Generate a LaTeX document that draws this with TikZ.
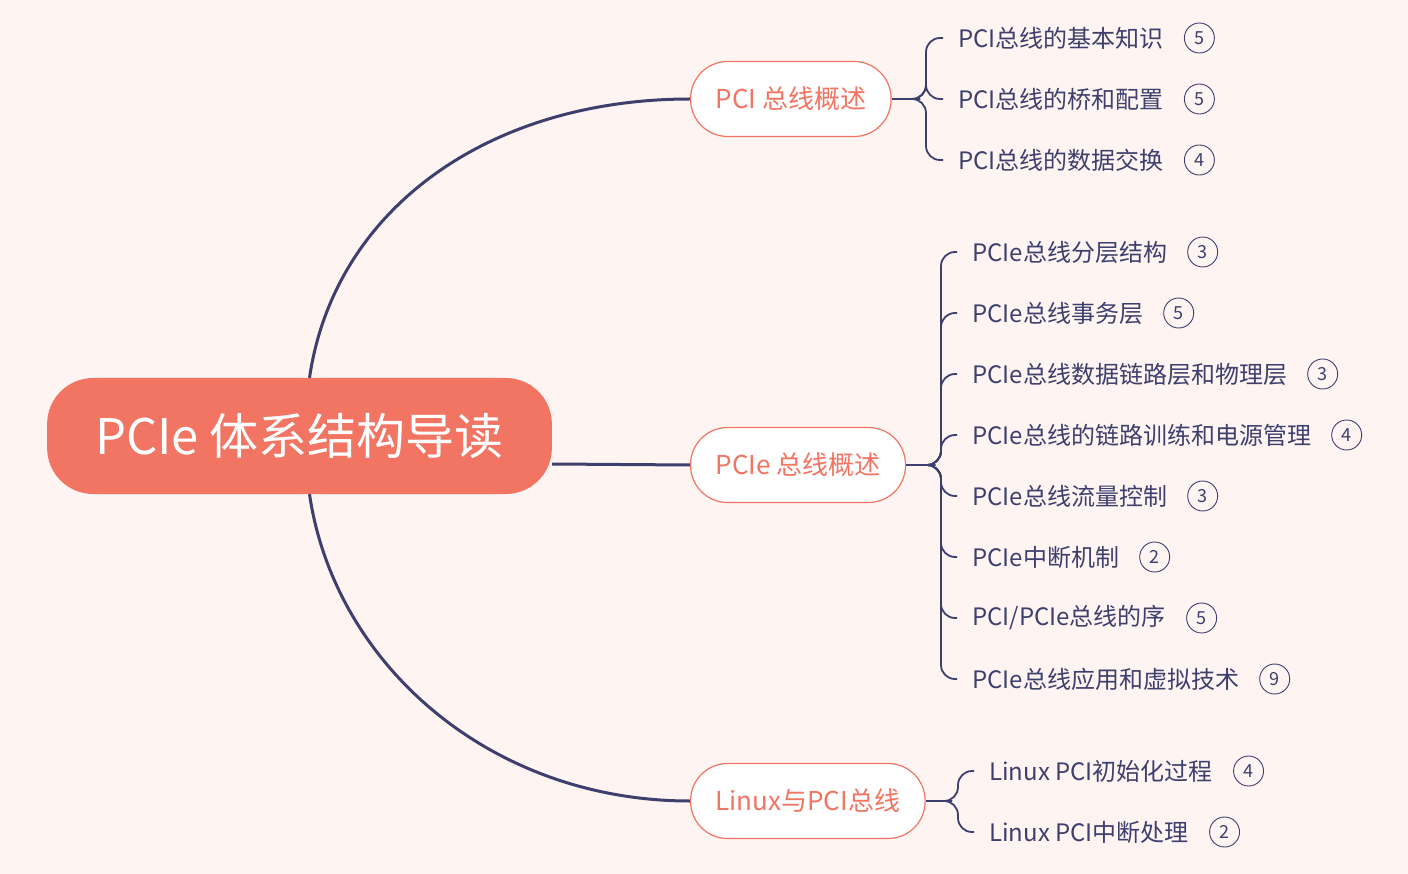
\documentclass[tikz,border=0pt]{standalone}
\usepackage{fontspec}
\setmainfont{Noto Sans CJK SC}
\usetikzlibrary{positioning}
\definecolor{bgpink}{HTML}{FEF5F3}
\definecolor{coral}{HTML}{F27462}
\definecolor{navy}{HTML}{3E3F6D}

\begin{document}
\begin{tikzpicture}[x=1pt, y=-1pt, every node/.style={font=\fontsize{24}{28}\selectfont},
        root/.style={fill=coral, text=white, rounded corners=46pt, minimum height=116pt,
        inner xsep=48pt, font=\fontsize{49}{56}\selectfont},
        topic/.style={draw=coral, line width=1.2pt, fill=white, text=coral, anchor=west,
        rounded corners=37pt, minimum height=75pt, inner xsep=25pt, font=\fontsize{26}{30}\selectfont},
        leaf/.style={anchor=west, text=navy, inner xsep=15pt, inner ysep=0pt},
        badge/.style={circle, draw=navy, line width=0.9pt, text=navy, minimum size=30pt,
        inner sep=0pt, font=\fontsize{18}{20}\selectfont},
        branch/.style={draw=navy, line width=3pt},
        twig/.style={draw=navy, line width=1.8pt, rounded corners=14pt}]
      \fill[bgpink] (0,0) rectangle (1408,874);
      \node[root] (root) at (299.5,436) {PCIe 体系结构导读};
      \node[topic] (pci) at (690,99) {PCI 总线概述};
      \node[topic] (pcie) at (690,465) {PCIe 总线概述};
      \node[topic] (linux) at (690,801) {Linux与PCI总线};
      \draw[branch] ([xshift=10pt]root.north) .. controls +(25,-170) and +(-200,0) .. (pci.west);
      \draw[branch] ([yshift=-28pt]root.east) -- (pcie.west);
      \draw[branch] ([xshift=10pt]root.south) .. controls +(25,170) and +(-200,0) .. (linux.west);
      % PCI
      \coordinate (j1) at (920,99);
      \node[leaf] (l1a) at (943,38) {PCI总线的基本知识};
      \node[leaf] (l1b) at (943,99) {PCI总线的桥和配置};
      \node[leaf] (l1c) at (943,160) {PCI总线的数据交换};
      \node[badge, right=5pt of l1a] (n1a) {5};
      \node[badge, right=5pt of l1b] (n1b) {5};
      \node[badge, right=5pt of l1c] (n1c) {4};
      \draw[twig] (pci.east) -- (j1);
      \foreach \l in {l1a,l1b,l1c}
        \draw[twig] (j1) -- ++(6,0) |- (\l.west);
      % PCIe
      \coordinate (j2) at (935,465);
      \node[leaf] (l2a) at (957,252) {PCIe总线分层结构};
      \node[leaf] (l2b) at (957,313) {PCIe总线事务层};
      \node[leaf] (l2c) at (957,374) {PCIe总线数据链路层和物理层};
      \node[leaf] (l2d) at (957,435) {PCIe总线的链路训练和电源管理};
      \node[leaf] (l2e) at (957,496) {PCIe总线流量控制};
      \node[leaf] (l2f) at (957,557) {PCIe中断机制};
      \node[leaf] (l2g) at (957,618) {PCI/PCIe总线的序};
      \node[leaf] (l2h) at (957,679) {PCIe总线应用和虚拟技术};
      \node[badge, right=5pt of l2a] (n2a) {3};
      \node[badge, right=5pt of l2b] (n2b) {5};
      \node[badge, right=5pt of l2c] (n2c) {3};
      \node[badge, right=5pt of l2d] (n2d) {4};
      \node[badge, right=5pt of l2e] (n2e) {3};
      \node[badge, right=5pt of l2f] (n2f) {2};
      \node[badge, right=5pt of l2g] (n2g) {5};
      \node[badge, right=5pt of l2h] (n2h) {9};
      \draw[twig] (pcie.east) -- (j2);
      \foreach \l in {l2a,l2b,l2c,l2d,l2e,l2f,l2g,l2h}
        \draw[twig] (j2) -- ++(6,0) |- (\l.west);
      % Linux
      \coordinate (j3) at (952,801);
      \node[leaf] (l3a) at (974,771) {Linux PCI初始化过程};
      \node[leaf] (l3b) at (974,832) {Linux PCI中断处理};
      \node[badge, right=5pt of l3a] (n3a) {4};
      \node[badge, right=5pt of l3b] (n3b) {2};
      \draw[twig] (linux.east) -- (j3);
      \foreach \l in {l3a,l3b}
        \draw[twig] (j3) -- ++(6,0) |- (\l.west);
    \end{tikzpicture}
\end{document}
